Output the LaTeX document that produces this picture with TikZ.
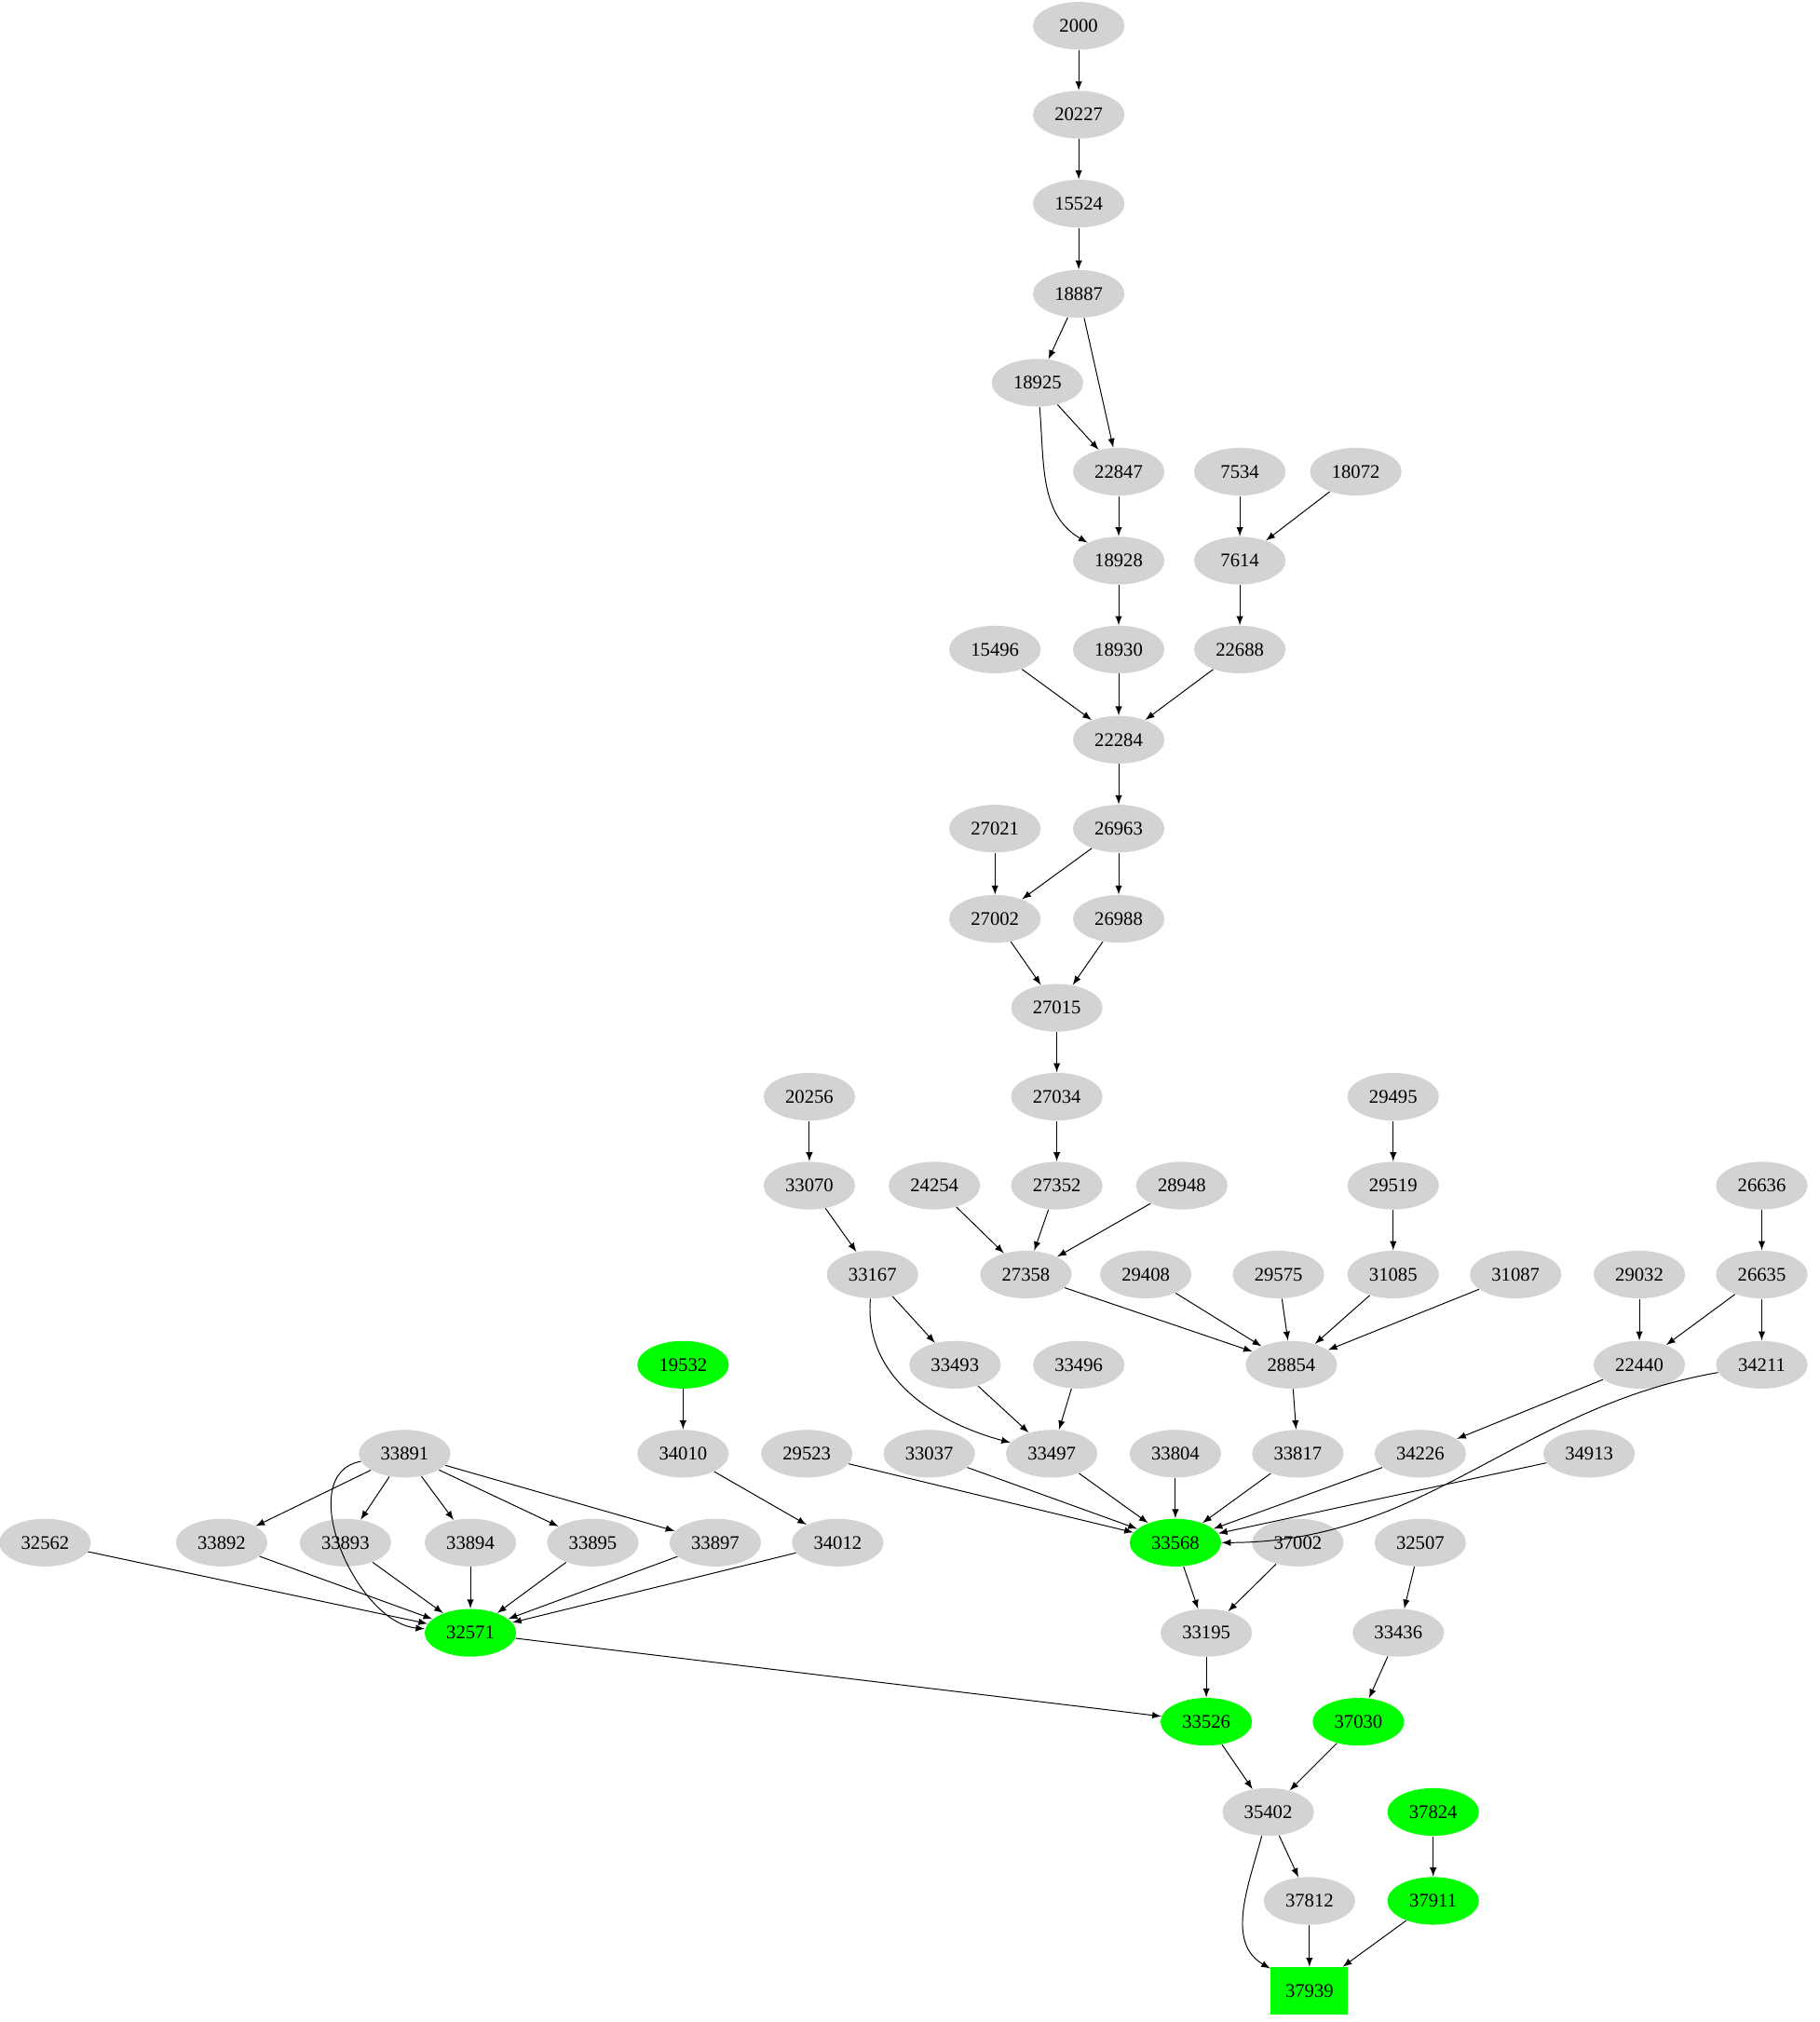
\documentclass[tikz,border=0pt]{standalone}
\usepackage{fontspec}
\setmainfont{Liberation Serif}
\usetikzlibrary{shapes.geometric}
\definecolor{gnode}{HTML}{D3D3D3}
\definecolor{hit}{HTML}{00FF00}
\begin{document}
\begin{tikzpicture}[
  x=0.02cm, y=-0.02cm,
  every node/.style={font=\fontsize{8.5}{10}\selectfont},
  job/.style={ellipse,fill=gnode,minimum width=1.42cm,minimum height=0.74cm,inner sep=0pt},
  done/.style={job,fill=hit},
  goal/.style={rectangle,fill=hit,minimum width=1.2cm,minimum height=0.74cm,inner sep=0pt},
  dep/.style={-latex,thin}
]
\useasboundingbox (0,0) rectangle (1412,1569);
% nodes
\node[job] (n2000) at (837,20) {2000};
\node[job] (n20227) at (837,89) {20227};
\node[job] (n15524) at (837,158) {15524};
\node[job] (n18887) at (837,228) {18887};
\node[job] (n18925) at (805,297) {18925};
\node[job] (n22847) at (868,366) {22847};
\node[job] (n7534) at (962,366) {7534};
\node[job] (n18072) at (1052,366) {18072};
\node[job] (n18928) at (868,435) {18928};
\node[job] (n7614) at (962,435) {7614};
\node[job] (n15496) at (772,504) {15496};
\node[job] (n18930) at (868,504) {18930};
\node[job] (n22688) at (962,504) {22688};
\node[job] (n22284) at (868,574) {22284};
\node[job] (n27021) at (772,643) {27021};
\node[job] (n26963) at (868,643) {26963};
\node[job] (n27002) at (772,713) {27002};
\node[job] (n26988) at (868,713) {26988};
\node[job] (n27015) at (820,782) {27015};
\node[job] (n20256) at (628,851) {20256};
\node[job] (n27034) at (820,851) {27034};
\node[job] (n29495) at (1081,851) {29495};
\node[job] (n33070) at (628,920) {33070};
\node[job] (n24254) at (725,920) {24254};
\node[job] (n27352) at (820,920) {27352};
\node[job] (n28948) at (917,920) {28948};
\node[job] (n29519) at (1081,920) {29519};
\node[job] (n26636) at (1367,920) {26636};
\node[job] (n33167) at (677,989) {33167};
\node[job] (n27358) at (796,989) {27358};
\node[job] (n29408) at (889,989) {29408};
\node[job] (n29575) at (992,989) {29575};
\node[job] (n31085) at (1081,989) {31085};
\node[job] (n31087) at (1176,989) {31087};
\node[job] (n29032) at (1272,989) {29032};
\node[job] (n26635) at (1367,989) {26635};
\node[done] (n19532) at (530,1059) {19532};
\node[job] (n33493) at (741,1059) {33493};
\node[job] (n33496) at (837,1059) {33496};
\node[job] (n28854) at (1002,1059) {28854};
\node[job] (n22440) at (1272,1059) {22440};
\node[job] (n34211) at (1367,1059) {34211};
\node[job] (n33891) at (314,1128) {33891};
\node[job] (n34010) at (530,1128) {34010};
\node[job] (n29523) at (626,1128) {29523};
\node[job] (n33037) at (721,1128) {33037};
\node[job] (n33497) at (816,1128) {33497};
\node[job] (n33804) at (912,1128) {33804};
\node[job] (n33817) at (1007,1128) {33817};
\node[job] (n34226) at (1102,1128) {34226};
\node[job] (n34913) at (1233,1128) {34913};
\node[job] (n32562) at (35,1197) {32562};
\node[job] (n33892) at (172,1197) {33892};
\node[job] (n33893) at (268,1197) {33893};
\node[job] (n33894) at (365,1197) {33894};
\node[job] (n33895) at (460,1197) {33895};
\node[job] (n33897) at (555,1197) {33897};
\node[job] (n34012) at (650,1197) {34012};
\node[done] (n33568) at (912,1197) {33568};
\node[job] (n37002) at (1007,1197) {37002};
\node[job] (n32507) at (1102,1197) {32507};
\node[done] (n32571) at (365,1267) {32571};
\node[job] (n33195) at (936,1267) {33195};
\node[job] (n33436) at (1085,1267) {33436};
\node[done] (n33526) at (936,1336) {33526};
\node[done] (n37030) at (1054,1336) {37030};
\node[job] (n35402) at (984,1406) {35402};
\node[done] (n37824) at (1112,1406) {37824};
\node[job] (n37812) at (1016,1475) {37812};
\node[done] (n37911) at (1112,1475) {37911};
\node[goal] (n37939) at (1016,1545) {37939};
% edges
\draw[dep] (n2000) -- (n20227);
\draw[dep] (n20227) -- (n15524);
\draw[dep] (n15524) -- (n18887);
\draw[dep] (n18887) -- (n18925);
\draw[dep] (n18887) -- (n22847);
\draw[dep] (n18925) -- (n22847);
\draw[dep] (n18925) to[out=-85,in=150] (n18928);
\draw[dep] (n22847) -- (n18928);
\draw[dep] (n7534) -- (n7614);
\draw[dep] (n18072) -- (n7614);
\draw[dep] (n18928) -- (n18930);
\draw[dep] (n7614) -- (n22688);
\draw[dep] (n15496) -- (n22284);
\draw[dep] (n18930) -- (n22284);
\draw[dep] (n22688) -- (n22284);
\draw[dep] (n22284) -- (n26963);
\draw[dep] (n27021) -- (n27002);
\draw[dep] (n26963) -- (n27002);
\draw[dep] (n26963) -- (n26988);
\draw[dep] (n27002) -- (n27015);
\draw[dep] (n26988) -- (n27015);
\draw[dep] (n27015) -- (n27034);
\draw[dep] (n27034) -- (n27352);
\draw[dep] (n20256) -- (n33070);
\draw[dep] (n29495) -- (n29519);
\draw[dep] (n26636) -- (n26635);
\draw[dep] (n33070) -- (n33167);
\draw[dep] (n24254) -- (n27358);
\draw[dep] (n27352) -- (n27358);
\draw[dep] (n28948) -- (n27358);
\draw[dep] (n29519) -- (n31085);
\draw[dep] (n33167) -- (n33493);
\draw[dep] (n33167) to[out=-95,in=165] (n33497);
\draw[dep] (n27358) -- (n28854);
\draw[dep] (n29408) -- (n28854);
\draw[dep] (n29575) -- (n28854);
\draw[dep] (n31085) -- (n28854);
\draw[dep] (n31087) -- (n28854);
\draw[dep] (n29032) -- (n22440);
\draw[dep] (n26635) -- (n22440);
\draw[dep] (n26635) -- (n34211);
\draw[dep] (n19532) -- (n34010);
\draw[dep] (n33493) -- (n33497);
\draw[dep] (n33496) -- (n33497);
\draw[dep] (n28854) -- (n33817);
\draw[dep] (n22440) -- (n34226);
\draw[dep] (n34010) -- (n34012);
\draw[dep] (n29523) -- (n33568);
\draw[dep] (n33037) -- (n33568);
\draw[dep] (n33497) -- (n33568);
\draw[dep] (n33804) -- (n33568);
\draw[dep] (n33817) -- (n33568);
\draw[dep] (n34226) -- (n33568);
\draw[dep] (n34913) -- (n33568);
\draw[dep] (n34211) to[out=190,in=0] (n33568);
\draw[dep] (n33891) -- (n33892);
\draw[dep] (n33891) -- (n33893);
\draw[dep] (n33891) -- (n33894);
\draw[dep] (n33891) -- (n33895);
\draw[dep] (n33891) -- (n33897);
\draw[dep] (n33891) to[out=190,in=175] (n32571);
\draw[dep] (n32562) -- (n32571);
\draw[dep] (n33892) -- (n32571);
\draw[dep] (n33893) -- (n32571);
\draw[dep] (n33894) -- (n32571);
\draw[dep] (n33895) -- (n32571);
\draw[dep] (n33897) -- (n32571);
\draw[dep] (n34012) -- (n32571);
\draw[dep] (n33568) -- (n33195);
\draw[dep] (n37002) -- (n33195);
\draw[dep] (n32507) -- (n33436);
\draw[dep] (n32571) -- (n33526);
\draw[dep] (n33195) -- (n33526);
\draw[dep] (n33436) -- (n37030);
\draw[dep] (n33526) -- (n35402);
\draw[dep] (n37030) -- (n35402);
\draw[dep] (n35402) -- (n37812);
\draw[dep] (n35402) to[out=-105,in=150] (n37939);
\draw[dep] (n37824) -- (n37911);
\draw[dep] (n37812) -- (n37939);
\draw[dep] (n37911) -- (n37939);
\end{tikzpicture}
\end{document}
